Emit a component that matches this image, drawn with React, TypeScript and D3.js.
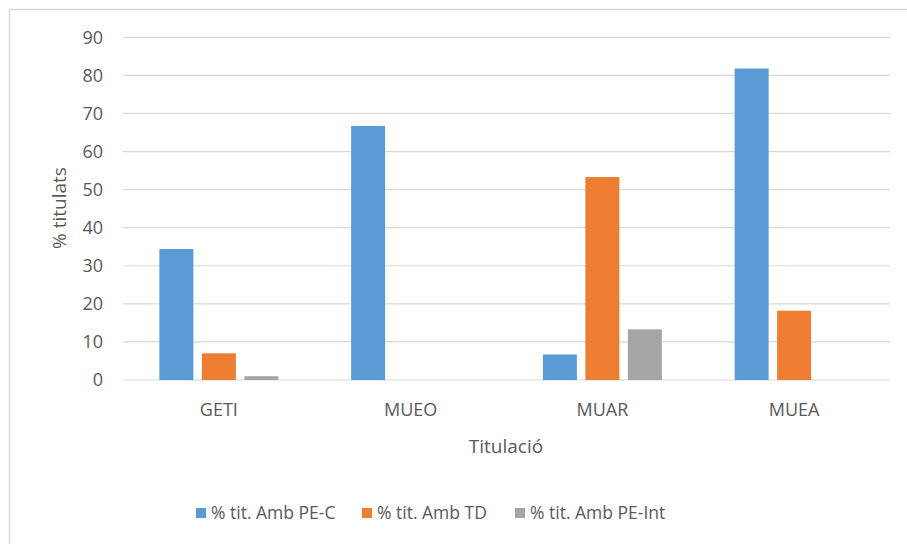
import React from "react";
import * as d3 from "d3";

const categories = ["GETI", "MUEO", "MUAR", "MUEA"];
const seriesNames = ["% tit. Amb PE-C", "% tit. Amb TD", "% tit. Amb PE-Int"];
const peC = [34.4, 66.7, 6.7, 81.8];
const td = [7.0, 0, 53.3, 18.2];
const peInt = [1.0, 0, 13.3, 0];
const yTicks = [0, 10, 20, 30, 40, 50, 60, 70, 80, 90];
const colors = ["#5B9BD5", "#ED7D31", "#A5A5A5"];

const W = 907;
const H = 544;
const FONT = "'Open Sans', 'Noto Sans', sans-serif";
const TXT = "#595959";

export default function App() {
  const seriesValues = [peC, td, peInt];
  const x = d3.scaleBand<string>().domain(categories).range([123, 890]).padding(0);
  const y = d3.scaleLinear().domain([0, 90]).range([380, 37.3]);
  const inner = d3
    .scaleBand<string>()
    .domain(seriesNames)
    .range([0, x.bandwidth()])
    .paddingInner(0.2)
    .paddingOuter(0.856);

  const legendX = [196, 362, 515];

  return (
    <svg
      width={W}
      height={H}
      style={{ position: "absolute", left: 0, top: 0, background: "#fff" }}
      fontFamily={FONT}
    >
      <rect x={0} y={0} width={W} height={H} fill="#fff" />
      {/* chart border */}
      <line x1={9.5} y1={9.5} x2={W} y2={9.5} stroke="#D9D9D9" strokeWidth={1.5} />
      <line x1={9.5} y1={9.5} x2={9.5} y2={H} stroke="#D9D9D9" strokeWidth={1.5} />

      {/* grid */}
      {yTicks.map((t) => (
        <line
          key={t}
          x1={123}
          x2={890}
          y1={y(t)}
          y2={y(t)}
          stroke="#D9D9D9"
          strokeWidth={1.2}
        />
      ))}
      {/* y tick labels */}
      {yTicks.map((t) => (
        <text
          key={"l" + t}
          x={103}
          y={y(t)}
          dy="0.36em"
          textAnchor="end"
          fontSize={18}
          fill={TXT}
        >
          {t}
        </text>
      ))}

      {/* bars */}
      {categories.map((c, ci) =>
        seriesNames.map((s, si) => {
          const v = seriesValues[si][ci];
          if (v <= 0) return null;
          return (
            <rect
              key={c + s}
              x={(x(c) as number) + (inner(s) as number)}
              width={inner.bandwidth()}
              y={y(v)}
              height={y(0) - y(v)}
              fill={colors[si]}
            />
          );
        })
      )}

      {/* category labels */}
      {categories.map((c) => (
        <text
          key={"c" + c}
          x={(x(c) as number) + x.bandwidth() / 2}
          y={416}
          textAnchor="middle"
          fontSize={18}
          fill={TXT}
        >
          {c}
        </text>
      ))}

      {/* axis titles */}
      <text x={506} y={453} textAnchor="middle" fontSize={19} fill={TXT}>
        Titulació
      </text>
      <text
        transform="translate(66,208) rotate(-90)"
        textAnchor="middle"
        fontSize={19}
        fill={TXT}
      >
        % titulats
      </text>

      {/* legend */}
      {seriesNames.map((s, i) => (
        <g key={"lg" + s} transform={`translate(${legendX[i]},0)`}>
          <rect x={0} y={508} width={10} height={10} fill={colors[i]} />
          <text x={15} y={519} fontSize={17.5} fill={TXT}>
            {s}
          </text>
        </g>
      ))}
    </svg>
  );
}
